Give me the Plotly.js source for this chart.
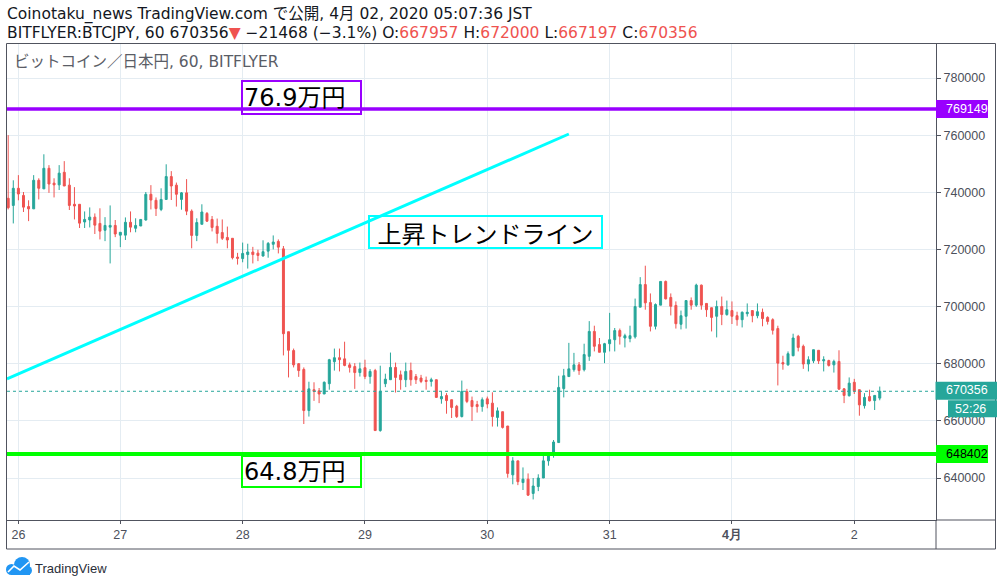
<!DOCTYPE html>
<html>
<head>
<meta charset="utf-8">
<script src="https://cdn.plot.ly/plotly-3.0.1.min.js"></script>
<style>html,body{margin:0;padding:0;background:#fff;}#chart{width:1002px;height:586px;}</style>
</head>
<body>
<div id="chart"></div>
<script>
// ---- data (hourly candles, BITFLYER BTCJPY, JST) ----
const startTime = '2020-03-26 02:00';
const open = [737900,735400,741400,738900,735000,734200,744200,741200,748400,743200,742600,747000,742500,735800,735800,729600,730300,731300,729100,726700,727800,728400,725000,725000,729500,727400,728200,730300,739300,737200,734000,737500,745500,742500,737500,739800,733400,724900,728800,732600,730500,728100,725900,724200,723900,717300,716800,718200,719100,718700,717700,719400,721800,722800,720200,691200,684600,680000,678000,663600,670900,670500,669400,673000,680700,682100,681700,679600,679000,676900,678600,675500,677600,656600,673000,674400,678700,676100,674400,677600,675500,675000,674200,673800,674400,667700,668900,667400,665100,661500,670200,667100,665700,665000,667700,666200,661200,663200,658200,641100,646000,638400,639600,634600,637000,640000,646000,648100,652400,671300,675500,677900,679600,677900,682600,691300,686700,684000,687000,688400,691600,689000,688800,689400,699800,707700,701400,693100,700500,708800,703200,700400,693800,696600,702100,700500,707500,701100,699600,696600,700000,697200,698600,696800,695400,697500,698600,696800,698000,696200,695400,692300,680400,679600,682800,689600,686100,679900,681000,684700,681000,681100,679600,680800,671200,668800,673500,670900,665300,668500,667100,667957];
const high = [760000,744200,746000,740100,737200,746000,744900,753300,749500,744900,749500,750900,744900,741800,735800,733300,734700,732600,734400,731300,735400,730300,726000,731200,733300,730900,730500,740100,742500,738200,741400,749800,747400,743400,740100,744600,734000,730900,735800,733100,731700,730800,730500,728000,723900,718800,722400,722000,720900,719900,723200,722600,724900,723500,721200,691200,685300,680200,678700,673700,673500,671500,673800,681700,685300,685300,687700,680400,680200,680400,681400,678100,678200,679300,676500,683900,680400,677600,680400,680400,676400,676100,675500,675100,674400,670300,669700,667400,665600,674100,671200,668500,667000,668200,668500,670000,664700,663200,658200,647300,646000,643700,641600,640000,641300,649100,649100,653300,675800,678200,687300,683800,680600,687000,694900,693300,689000,687300,697800,692500,692300,690500,693300,702800,710300,714300,704600,701100,708800,709100,704600,701800,698600,702100,703200,708000,707700,701100,699600,702100,703500,702100,701800,698200,698300,701100,698600,701100,699300,696600,695900,693300,682800,684300,690500,690100,686700,682600,684900,684700,682600,681400,681400,684700,671500,675200,674700,670900,669700,670900,668900,672000];
const low = [734000,729100,737200,733100,729900,734200,737500,741200,739800,738200,740800,742200,733800,730500,727500,727500,727700,725400,723500,722900,715100,724300,720800,723300,726000,726000,728200,730100,734000,731700,733400,737500,737300,735000,733900,732000,720400,722900,728800,729600,726300,722100,723300,720400,716500,714700,715500,713300,715100,715900,717500,717100,720000,718600,682900,675200,678700,675400,658900,661500,667000,666200,669400,670900,677600,677300,679100,676900,671200,675500,674600,673000,656600,656200,671800,674400,669900,670900,671800,672300,672900,673200,670900,672000,668200,666000,662500,661000,661000,661200,666200,660000,662900,663200,664400,658000,658000,657300,640100,637800,637500,635800,633700,632500,635400,640000,644300,647100,652400,668200,675500,677200,676100,677300,681000,684300,684000,680200,684300,684300,686700,685700,687500,688800,699800,698900,691300,692000,700500,702500,696900,692300,692000,692300,698900,699900,698900,696400,691300,689200,693500,696800,693900,693300,692700,696500,694500,695900,693100,693700,690200,672400,677900,679300,682600,684300,678200,677300,680200,679900,677300,679000,676900,670900,666200,668500,669400,661800,664300,666800,663800,667197];
const close = [734600,741400,739400,734800,734200,744200,741400,748400,742900,742600,746700,742200,735400,735200,729200,730500,731300,728500,726400,728400,728400,725400,726000,729500,727800,728400,730500,739300,737300,734300,737500,745500,742200,739300,739800,733400,724900,729400,733100,729900,727700,725600,723900,723300,717100,716900,718600,719100,718200,717900,719200,722100,722600,720800,690500,684700,679600,677600,663600,671200,670300,669400,673500,681400,682100,681400,679400,678700,676900,678200,675500,677300,656600,670300,674600,678700,675200,674400,677300,674400,674400,673800,673800,674400,668200,668500,667100,664700,661500,670300,666800,665000,665000,667400,665900,661500,663500,657700,641600,646000,638700,639600,634000,637200,640000,646000,648700,652600,671700,675800,678200,679600,677600,683200,691300,686100,684000,687000,688400,691600,689600,689800,689800,700000,707700,701300,693100,700700,708800,702700,700100,694000,696800,702100,700500,707500,700500,698900,696200,700000,697200,698900,696600,695400,698000,698000,696800,698200,695800,694800,691700,680200,679900,683500,689000,685700,679900,681400,684900,681000,681400,679400,680800,671100,668900,673200,670500,665600,668200,667000,668900,670356];
const priceTicks = [640000,660000,680000,700000,720000,740000,760000,780000];
const dayTicks = ['2020-03-26 04:00','2020-03-27','2020-03-28','2020-03-29','2020-03-30','2020-03-31','2020-04-01','2020-04-02'];
const dayLabels = ['26','27','28','29','30','31','<b>4月</b>','2'];
const resistance = 769149;   // 76.9万円
const support = 648402;      // 64.8万円
const lastPrice = 670356;
const countdown = '52:26';
const trendStart = ['2020-03-26 01:46', 674650];
const trendEnd = ['2020-03-30 16:00', 760400];

// ---- build times ----
const t0 = Date.parse(startTime.replace(' ', 'T') + ':00Z');
const times = open.map((_, i) => new Date(t0 + i * 3600e3).toISOString().slice(0, 16).replace('T', ' '));

// ---- pixel helpers (plot area: x 7..936, y 44..520) ----
const PX = px => (px - 7) / 929;
const PY = py => (520 - py) / 476;

const UP = '#26a69a', DOWN = '#ef5350';
const PURPLE = '#9900ff', GREEN = '#00ff00', CYAN = '#00ffff';
const FRAME = '#50535e';
const AXFONT = {family: "'Liberation Sans Narrow','Liberation Sans',Arial,sans-serif", size: 12.5, color: '#4c505b'};
const HEAD = "'DejaVu Sans','Noto Sans CJK JP',sans-serif";
const JP = "'Noto Sans CJK JP','Noto Sans',sans-serif";
const BOXFONT = "'DejaVu Sans','Noto Sans CJK JP',sans-serif";

const trace = {
  type: 'candlestick', x: times, open: open, high: high, low: low, close: close,
  increasing: {line: {color: UP, width: 1}, fillcolor: UP},
  decreasing: {line: {color: DOWN, width: 1}, fillcolor: DOWN},
  whiskerwidth: 0, hoverinfo: 'skip', showlegend: false
};

const tag = (price, x0, x1, y0, y1, color) => ({
  type: 'rect', xref: 'paper', x0: PX(x0), x1: PX(x1), yref: 'y', ysizemode: 'pixel', yanchor: price,
  y0: y0, y1: y1, fillcolor: color, line: {width: 0}
});

const shapes = [
  // price levels
  {type: 'line', xref: 'paper', x0: 0, x1: 1, yref: 'y', y0: lastPrice, y1: lastPrice, line: {color: UP, width: 1, dash: 'dot'}},
  {type: 'line', xref: 'paper', x0: 0, x1: 1, yref: 'y', y0: resistance, y1: resistance, line: {color: PURPLE, width: 3.5}},
  {type: 'line', xref: 'paper', x0: 0, x1: 1, yref: 'y', y0: support, y1: support, line: {color: GREEN, width: 4}},
  // trend line
  {type: 'line', xref: 'x', yref: 'y', x0: trendStart[0], y0: trendStart[1], x1: trendEnd[0], y1: trendEnd[1], line: {color: CYAN, width: 3}},
  // frame
  {type: 'line', xref: 'paper', yref: 'paper', x0: PX(6.5), x1: PX(995.5), y0: PY(43.5), y1: PY(43.5), line: {color: FRAME, width: 1}},
  {type: 'line', xref: 'paper', yref: 'paper', x0: PX(6.5), x1: PX(995.5), y0: PY(549), y1: PY(549), line: {color: FRAME, width: 1}},
  {type: 'line', xref: 'paper', yref: 'paper', x0: PX(936), x1: PX(995.5), y0: PY(520), y1: PY(520), line: {color: FRAME, width: 1}},
  {type: 'line', xref: 'paper', yref: 'paper', x0: PX(6.5), x1: PX(6.5), y0: PY(43.5), y1: PY(549), line: {color: FRAME, width: 1}},
  {type: 'line', xref: 'paper', yref: 'paper', x0: PX(995.5), x1: PX(995.5), y0: PY(43.5), y1: PY(549), line: {color: FRAME, width: 1}},
  {type: 'line', xref: 'paper', yref: 'paper', x0: PX(936), x1: PX(936), y0: PY(520), y1: PY(549), line: {color: FRAME, width: 1}},
  // axis price tags
  tag(resistance, 936, 988, -9, 9, PURPLE),
  tag(support, 936, 988, -9, 9, GREEN),
  tag(lastPrice, 935.5, 997, -8.5, 9.5, UP),
  tag(lastPrice, 948, 997, -26, -9, UP),
  // TradingView logo cloud
  {type: 'circle', xref: 'paper', yref: 'paper', x0: PX(14), x1: PX(30), y0: PY(573), y1: PY(557), fillcolor: '#2196f3', line: {width: 0}},
  {type: 'circle', xref: 'paper', yref: 'paper', x0: PX(6), x1: PX(17), y0: PY(575), y1: PY(564), fillcolor: '#2196f3', line: {width: 0}},
  {type: 'rect', xref: 'paper', yref: 'paper', x0: PX(11), x1: PX(30), y0: PY(575), y1: PY(567), fillcolor: '#2196f3', line: {width: 0}},
  {type: 'circle', xref: 'paper', yref: 'paper', x0: PX(23), x1: PX(32), y0: PY(575), y1: PY(566), fillcolor: '#2196f3', line: {width: 0}},
  {type: 'path', xref: 'paper', yref: 'paper',
   path: 'M' + PX(8) + ',' + PY(572) + ' L' + PX(14) + ',' + PY(566) + ' L' + PX(20) + ',' + PY(570) + ' L' + PX(29) + ',' + PY(562),
   line: {color: '#ffffff', width: 1.6}}
];

const red = s => '<span style="color:#ef5350">' + s + '</span>';
const tagText = (txt, price, px, color, yshift) => ({
  xref: 'paper', yref: 'y', x: PX(px), y: price, yshift: yshift || 0, xanchor: 'left', yanchor: 'middle',
  showarrow: false, text: txt, font: Object.assign({}, AXFONT, {color: color})
});
const annotations = [
  {xref: 'paper', yref: 'paper', x: PX(5), y: PY(15), xanchor: 'left', yanchor: 'middle', showarrow: false,
   text: 'Coinotaku_news TradingView.com で公開, 4月 02, 2020 05:07:36 JST', font: {family: HEAD, size: 15.5, color: '#131722'}},
  {xref: 'paper', yref: 'paper', x: PX(5), y: PY(33), xanchor: 'left', yanchor: 'middle', showarrow: false,
   text: 'BITFLYER:BTCJPY, 60 670356' + red('▼') + ' −21468 (−3.1%) O:' + red(open[open.length-1]) + ' H:' + red(high[high.length-1]) + ' L:' + red(low[low.length-1]) + ' C:' + red(close[close.length-1]),
   font: {family: HEAD, size: 15.5, color: '#131722'}},
  {xref: 'paper', yref: 'paper', x: PX(12), y: PY(62), xanchor: 'left', yanchor: 'middle', showarrow: false,
   text: 'ビットコイン／日本円, 60, BITFLYER', font: {family: HEAD, size: 15.5, color: '#5a5d66'}},
  // drawings
  {xref: 'x', yref: 'y', x: '2020-03-27 23:38', y: 773200, xanchor: 'left', yanchor: 'middle', showarrow: false,
   text: '76.9万円', align: 'left', width: 115, height: 29, borderwidth: 2, borderpad: 1, bordercolor: PURPLE,
   font: {family: BOXFONT, size: 24, color: '#000'}},
  {xref: 'x', yref: 'y', x: '2020-03-27 23:38', y: 642400, xanchor: 'left', yanchor: 'middle', showarrow: false,
   text: '64.8万円', align: 'left', width: 115, height: 27, borderwidth: 2, borderpad: 1, bordercolor: GREEN,
   font: {family: BOXFONT, size: 24, color: '#000'}},
  {xref: 'x', yref: 'y', x: '2020-03-29 00:41', y: 726170, xanchor: 'left', yanchor: 'middle', showarrow: false,
   text: '上昇トレンドライン', align: 'center', width: 229, height: 28, borderwidth: 2, borderpad: 1, bordercolor: CYAN,
   font: {family: JP, size: 24, color: '#000'}},
  // price tag texts
  tagText(String(resistance), resistance, 944, '#ffffff'),
  tagText(String(support), support, 944, '#000000'),
  tagText(String(lastPrice), lastPrice, 944, '#ffffff', 1),
  tagText(countdown, lastPrice, 952.5, '#ffffff', -17.5),
  // logo text
  {xref: 'paper', yref: 'paper', x: PX(33), y: PY(568), xanchor: 'left', yanchor: 'middle', showarrow: false,
   text: 'TradingView', font: {family: "'Liberation Sans',Arial,sans-serif", size: 13, color: '#2a2e39'}}
];

const layout = {
  width: 1002, height: 586,
  margin: {l: 7, r: 66, t: 44, b: 66, pad: 0},
  paper_bgcolor: '#ffffff', plot_bgcolor: '#ffffff',
  showlegend: false, boxgap: 0.45, dragmode: false, hovermode: false,
  xaxis: {
    type: 'date', range: ['2020-03-26 01:46', '2020-04-02 16:02'], automargin: false,
    tickmode: 'array', tickvals: dayTicks, ticktext: dayLabels,
    ticks: 'outside', ticklen: 3, tickcolor: FRAME, tickfont: AXFONT,
    showgrid: true, gridcolor: '#e4ecf2', gridwidth: 1,
    showline: true, linecolor: FRAME, linewidth: 1, zeroline: false,
    rangeslider: {visible: false}, fixedrange: true
  },
  yaxis: {
    side: 'right', range: [625300, 791900], automargin: false,
    tickmode: 'array', tickvals: priceTicks, tickformat: 'd',
    ticks: 'outside', ticklen: 4, tickcolor: FRAME, tickfont: AXFONT,
    showgrid: true, gridcolor: '#e4ecf2', gridwidth: 1,
    showline: true, linecolor: FRAME, linewidth: 1, zeroline: false, fixedrange: true
  },
  shapes: shapes,
  annotations: annotations
};

Plotly.newPlot('chart', [trace], layout, {displayModeBar: false, staticPlot: true});
</script>
</body>
</html>
